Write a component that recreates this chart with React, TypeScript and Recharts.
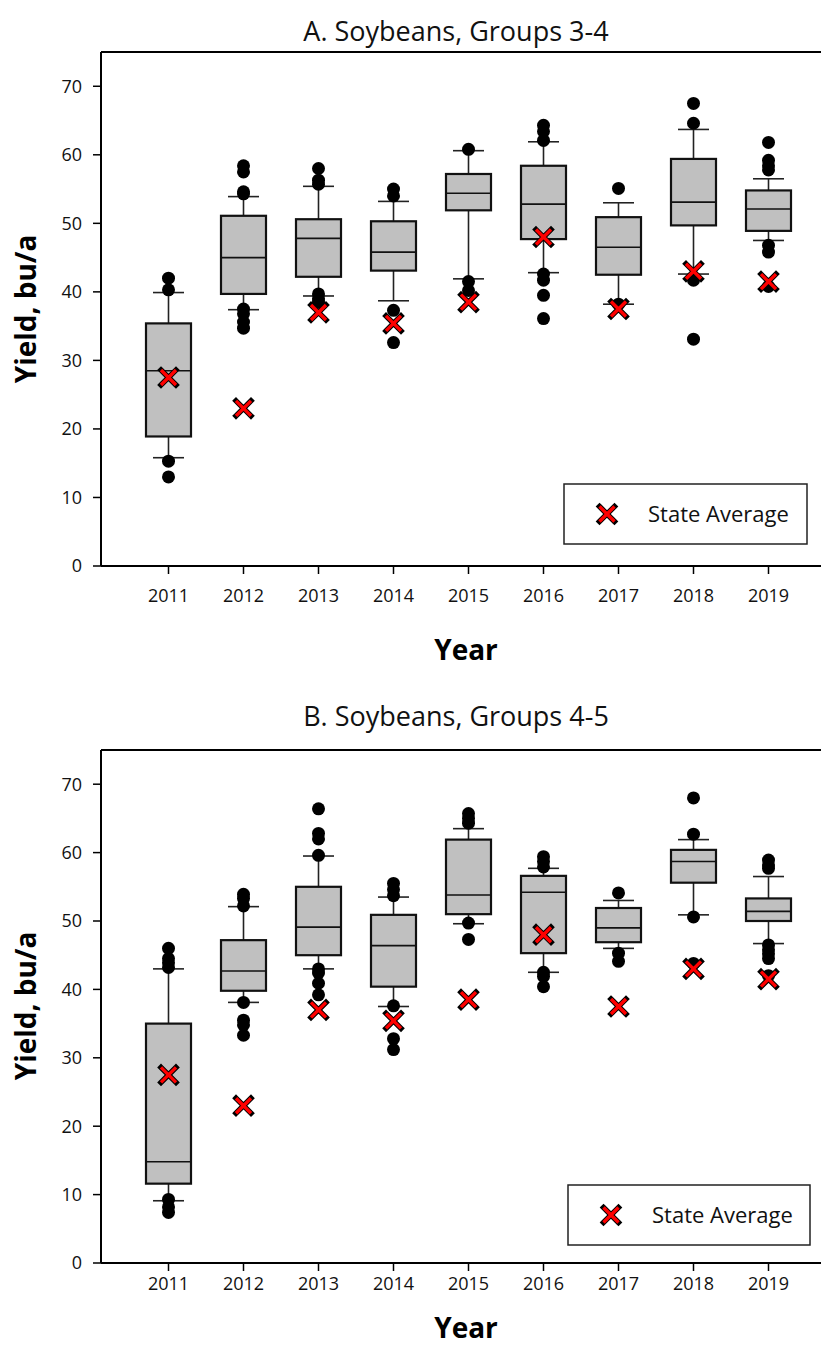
import React from 'react';
import { ComposedChart, Bar, Scatter, XAxis, YAxis } from 'recharts';

// ---------- data ----------
const years = ['2011', '2012', '2013', '2014', '2015', '2016', '2017', '2018', '2019'];
const yTicks = [0, 10, 20, 30, 40, 50, 60, 70];
const stateAverage = [27.5, 23.0, 37.0, 35.4, 38.5, 48.0, 37.5, 43.0, 41.5];

// Panel A: Soybeans, Groups 3-4
const aLow = [15.8, 37.4, 39.4, 38.7, 41.9, 42.8, 38.2, 42.6, 47.5];
const aQ1 = [18.9, 39.7, 42.2, 43.1, 51.9, 47.7, 42.5, 49.7, 48.9];
const aMed = [28.5, 45.0, 47.8, 45.8, 54.4, 52.8, 46.5, 53.1, 52.1];
const aQ3 = [35.4, 51.1, 50.6, 50.3, 57.2, 58.4, 50.9, 59.4, 54.8];
const aHigh = [39.9, 53.9, 55.4, 53.2, 60.6, 61.9, 53.0, 63.7, 56.5];
const aOutliers = [
  [42.0, 40.3, 15.3, 13.0],
  [58.4, 57.5, 54.6, 54.3, 37.5, 36.8, 35.6, 34.7],
  [58.0, 56.3, 55.7, 39.7, 39.0, 38.5],
  [55.0, 54.0, 37.3, 32.6],
  [60.8, 41.5, 40.2],
  [64.3, 63.4, 62.1, 42.6, 41.7, 39.5, 36.1],
  [55.1, 38.2],
  [67.5, 64.6, 41.7, 33.1],
  [61.8, 59.2, 58.4, 57.8, 46.8, 45.8, 40.8],
];

// Panel B: Soybeans, Groups 4-5
const bLow = [9.1, 38.1, 43.0, 37.5, 49.6, 42.5, 46.0, 50.9, 46.7];
const bQ1 = [11.6, 39.8, 45.0, 40.4, 51.0, 45.3, 46.9, 55.6, 50.0];
const bMed = [14.8, 42.7, 49.1, 46.4, 53.8, 54.2, 49.0, 58.7, 51.4];
const bQ3 = [35.0, 47.2, 55.0, 50.9, 61.9, 56.6, 51.9, 60.4, 53.3];
const bHigh = [43.0, 52.1, 59.5, 53.5, 63.5, 57.7, 53.0, 61.9, 56.5];
const bOutliers = [
  [46.0, 44.5, 43.9, 43.2, 9.3, 8.2, 7.4],
  [53.9, 53.3, 52.2, 38.1, 35.5, 34.8, 33.3],
  [66.4, 62.8, 62.0, 59.6, 43.0, 42.4, 40.9, 39.2],
  [55.5, 54.6, 53.7, 37.6, 32.8, 31.2],
  [65.7, 65.0, 64.3, 49.7, 47.3],
  [59.4, 58.7, 57.9, 42.5, 41.9, 40.4],
  [54.1, 45.3, 44.1],
  [68.0, 62.7, 50.6, 43.8],
  [58.9, 58.2, 57.7, 46.5, 45.8, 45.2, 44.5, 42.0],
];

// ---------- helpers ----------
const FONT = '"Open Sans", "Noto Sans", sans-serif';

const buildRows = (low: number[], q1: number[], med: number[], q3: number[], high: number[]) =>
  years.map((year, i) => ({
    year,
    whisker: [low[i], high[i]],
    box: [q1[i], q3[i]],
    q1: q1[i],
    med: med[i],
    q3: q3[i],
  }));

const buildOutliers = (out: number[][]) =>
  out.flatMap((vals, i) => vals.map((v) => ({ year: years[i], v })));

const stateRows = years.map((year, i) => ({ year, v: stateAverage[i] }));

const BoxShape = (props: any) => {
  const { x, y, width, height, payload } = props;
  const top = Math.min(y, y + height);
  const h = Math.abs(height);
  const medY = top + (h * (payload.q3 - payload.med)) / (payload.q3 - payload.q1);
  return (
    <g>
      <rect x={x} y={top} width={width} height={h} fill="#c0c0c0" stroke="#111" strokeWidth={2.2} />
      <line x1={x} x2={x + width} y1={medY} y2={medY} stroke="#111" strokeWidth={1.6} />
    </g>
  );
};

const WhiskerShape = (props: any) => {
  const { x, y, width, height } = props;
  const top = Math.min(y, y + height);
  const bot = Math.max(y, y + height);
  const cx = x + width / 2;
  return (
    <g stroke="#222" strokeWidth={1.6}>
      <line x1={cx} x2={cx} y1={top} y2={bot} />
      <line x1={x} x2={x + width} y1={top} y2={top} />
      <line x1={x} x2={x + width} y1={bot} y2={bot} />
    </g>
  );
};

const Dot = (props: any) => <circle cx={props.cx} cy={props.cy} r={6.5} fill="#000" />;

const XMark = ({ cx, cy }: { cx: number; cy: number }) => {
  const s = 7.5;
  const d = `M${cx - s},${cy - s}L${cx + s},${cy + s}M${cx - s},${cy + s}L${cx + s},${cy - s}`;
  return (
    <g>
      <path d={d} stroke="#000" strokeWidth={5.4} strokeLinecap="square" fill="none" />
      <path d={d} stroke="#ff0000" strokeWidth={3.4} strokeLinecap="butt" fill="none" />
    </g>
  );
};

const XMarkShape = (props: any) => <XMark cx={props.cx} cy={props.cy} />;

type PanelProps = {
  title: string;
  rows: any[];
  outliers: any[];
  height: number;
  marginTop: number;
  xAxisHeight: number;
  tickMargin: number;
  titleY: number;
  yLabelY: number;
  xLabelY: number;
  legend: { x: number; y: number; w: number; h: number };
};

const Panel = (p: PanelProps) => {
  const W = 821;
  const pad = { left: 30, right: 23 };
  const tickStyle = { fill: '#111', fontSize: 18, fontFamily: FONT };
  return (
    <div style={{ position: 'relative', width: W, height: p.height }}>
      <ComposedChart
        width={W}
        height={p.height}
        data={p.rows}
        margin={{ top: p.marginTop - 1, right: 0, bottom: 0, left: 0 }}
      >
        <XAxis
          xAxisId={0}
          dataKey="year"
          type="category"
          allowDuplicatedCategory={false}
          padding={pad}
          height={p.xAxisHeight}
          tickSize={8}
          tickMargin={p.tickMargin}
          tick={tickStyle}
          axisLine={{ stroke: '#000', strokeWidth: 2 }}
          tickLine={{ stroke: '#000', strokeWidth: 1.5 }}
        />
        <XAxis xAxisId={1} dataKey="year" type="category" padding={pad} hide />
        <XAxis
          xAxisId={2}
          dataKey="year"
          type="category"
          orientation="top"
          padding={pad}
          height={1}
          tick={false}
          tickLine={false}
          axisLine={{ stroke: '#000', strokeWidth: 2 }}
        />
        <YAxis
          type="number"
          domain={[0, 75]}
          ticks={yTicks}
          width={93}
          tickSize={8}
          tickMargin={11}
          tick={tickStyle}
          axisLine={{ stroke: '#000', strokeWidth: 2 }}
          tickLine={{ stroke: '#000', strokeWidth: 1.5 }}
          allowDataOverflow
        />
        <Bar xAxisId={1} dataKey="whisker" barSize={31} shape={WhiskerShape} isAnimationActive={false} />
        <Bar xAxisId={0} dataKey="box" barSize={45} shape={BoxShape} isAnimationActive={false} />
        <Scatter xAxisId={0} data={p.outliers} dataKey="v" shape={Dot} isAnimationActive={false} />
        <Scatter xAxisId={0} data={stateRows} dataKey="v" shape={XMarkShape} isAnimationActive={false} />
      </ComposedChart>
      <svg
        width={W}
        height={p.height}
        style={{ position: 'absolute', left: 0, top: 0, pointerEvents: 'none' }}
        fontFamily={FONT}
      >
        <text x={448} y={p.titleY} textAnchor="middle" fontSize={27} fill="#111">
          {p.title}
        </text>
        <text
          x={0}
          y={0}
          transform={`translate(28, ${p.yLabelY}) rotate(-90)`}
          textAnchor="middle"
          fontSize={28}
          fontWeight="bold"
          fill="#000"
        >
          Yield, bu/a
        </text>
        <text x={458} y={p.xLabelY} textAnchor="middle" fontSize={28} fontWeight="bold" fill="#000">
          Year
        </text>
        <rect
          x={p.legend.x}
          y={p.legend.y}
          width={p.legend.w}
          height={p.legend.h}
          fill="#fff"
          stroke="#222"
          strokeWidth={1.5}
        />
        <XMark cx={p.legend.x + 43} cy={p.legend.y + p.legend.h / 2} />
        <text x={p.legend.x + 84} y={p.legend.y + p.legend.h / 2 + 8} fontSize={22} fill="#111">
          State Average
        </text>
      </svg>
    </div>
  );
};

export default function App() {
  const rowsA = buildRows(aLow, aQ1, aMed, aQ3, aHigh);
  const rowsB = buildRows(bLow, bQ1, bMed, bQ3, bHigh);
  return (
    <div style={{ width: 821, background: '#fff' }}>
      <Panel
        title="A. Soybeans, Groups 3-4"
        rows={rowsA}
        outliers={buildOutliers(aOutliers)}
        height={664}
        marginTop={44}
        xAxisHeight={106}
        tickMargin={15}
        titleY={33}
        yLabelY={301}
        xLabelY={652}
        legend={{ x: 556, y: 476, w: 243, h: 60 }}
      />
      <Panel
        title="B. Soybeans, Groups 4-5"
        rows={rowsB}
        outliers={buildOutliers(bOutliers)}
        height={673}
        marginTop={78}
        xAxisHeight={82}
        tickMargin={6}
        titleY={54}
        yLabelY={334}
        xLabelY={666}
        legend={{ x: 560, y: 513, w: 242, h: 60 }}
      />
    </div>
  );
}
